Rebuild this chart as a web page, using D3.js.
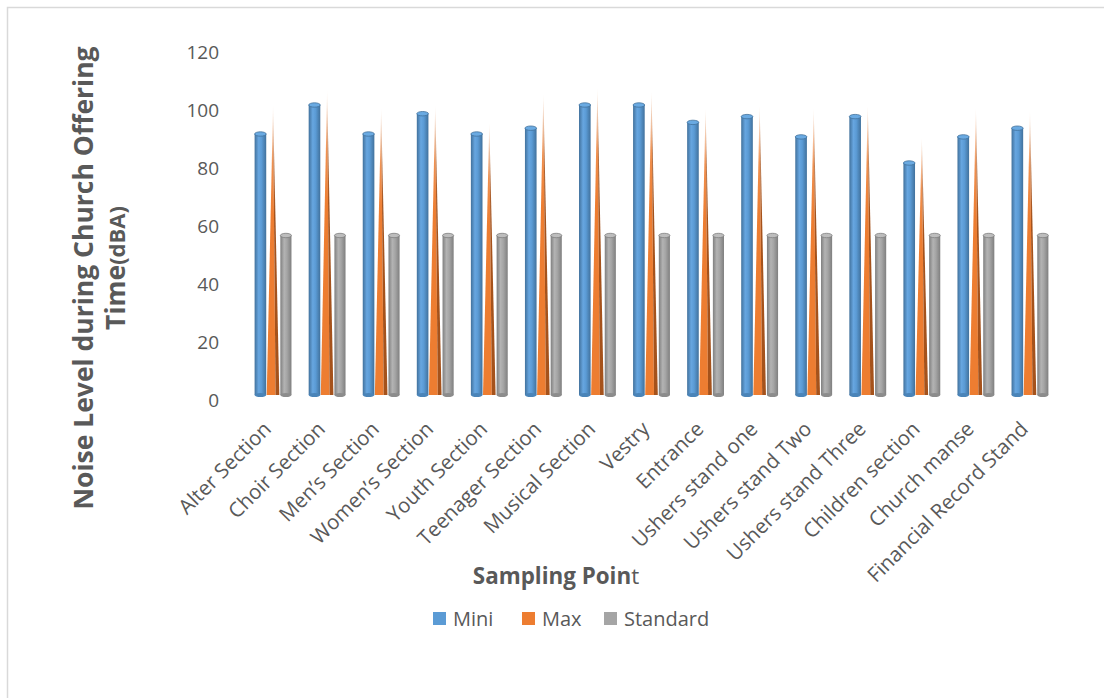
<!DOCTYPE html>
<html><head><meta charset="utf-8">
<script src="https://cdn.jsdelivr.net/npm/d3@7"></script>
<style>
html,body{margin:0;padding:0;background:#fff;}
svg{display:block;font-family:"Open Sans",sans-serif;}
</style></head>
<body><svg id="c" width="1104" height="698"></svg>
<script>
const categories = ["Alter Section","Choir Section","Men\u2019s Section","Women\u2019s Section","Youth Section","Teenager Section","Musical Section","Vestry","Entrance","Ushers stand one","Ushers stand Two","Ushers stand Three","Children section","Church manse","Financial Record Stand"];
const seriesNames = ["Mini","Max","Standard"];
const miniValues = [90,100,90,97,90,92,100,100,94,96,89,96,80,89,92];
const maxValues = [100,105,99,100,94,104,106,105,99,100,99,100,89,99,98];
const standardValues = [55,55,55,55,55,55,55,55,55,55,55,55,55,55,55];
const yTicks = [0,20,40,60,80,100,120];
const colors = {Mini:"#5b9bd5", Max:"#ed7d31", Standard:"#a5a5a5"};

const svg = d3.select("#c");
const textColor = "#595959";

// outer border
svg.append("rect").attr("x",7.5).attr("y",7.5).attr("width",1110).attr("height",700)
  .attr("fill","none").attr("stroke","#d9d9d9").attr("stroke-width",1.5);

const x0 = d3.scaleBand().domain(categories).range([246,1057]).paddingInner(0.3).paddingOuter(0.15);
const x1 = d3.scaleBand().domain(seriesNames).range([0,x0.bandwidth()]);
const y = d3.scaleLinear().domain([0,120]).range([395,47]);

const defs = svg.append("defs");
function hGrad(id, dark, mid, light){
  const g = defs.append("linearGradient").attr("id",id).attr("x1","0").attr("x2","1").attr("y1","0").attr("y2","0");
  g.append("stop").attr("offset","0%").attr("stop-color",dark);
  g.append("stop").attr("offset","35%").attr("stop-color",light);
  g.append("stop").attr("offset","60%").attr("stop-color",mid);
  g.append("stop").attr("offset","100%").attr("stop-color",dark);
}
hGrad("gBlue","#41719c","#5b9bd5","#67a6e0");
hGrad("gGray","#7f7f7f","#a5a5a5","#b3b3b3");
function vFade(id, col){
  const g = defs.append("linearGradient").attr("id",id).attr("x1","0").attr("x2","0").attr("y1","0").attr("y2","1");
  g.append("stop").attr("offset","0%").attr("stop-color",col).attr("stop-opacity",0.05);
  g.append("stop").attr("offset","20%").attr("stop-color",col).attr("stop-opacity",0.85);
  g.append("stop").attr("offset","38%").attr("stop-color",col).attr("stop-opacity",1);
  g.append("stop").attr("offset","100%").attr("stop-color",col).attr("stop-opacity",1);
}
vFade("gOrange","#ed7d31");
vFade("gOrangeDark","#a5521b");

// y axis (labels only, offset for 3D depth)
const yAxis = d3.axisLeft(y).tickValues(yTicks).tickSize(0).tickPadding(0);
const ya = svg.append("g").attr("transform","translate(219,5)").call(yAxis);
ya.select(".domain").remove();
ya.selectAll("text").attr("fill",textColor).style("font-size","19px").style("font-family","'Open Sans',sans-serif");

// x axis labels
const xa = svg.append("g").attr("transform","translate(0,420)");
xa.selectAll("text").data(categories).enter().append("text")
  .attr("transform",d=>`translate(${x0(d)+x0.bandwidth()/2-11},0) rotate(-45)`)
  .attr("text-anchor","end").attr("dy","0.71em")
  .attr("fill",textColor).style("font-size","20.5px").text(d=>d);

// bars
const groups = svg.append("g").selectAll("g").data(categories).enter().append("g")
  .attr("transform",d=>`translate(${x0(d)},0)`);

const w = x1.bandwidth();
groups.each(function(d,i){
  const g = d3.select(this);
  // Standard
  const xs = x1("Standard")+1, ws = w-1.5;
  const ts = y(standardValues[i]);
  g.append("rect").attr("x",xs).attr("y",ts).attr("width",ws).attr("height",y(0)-ts).attr("fill","url(#gGray)");
  g.append("ellipse").attr("cx",xs+ws/2).attr("cy",y(0)).attr("rx",ws/2).attr("ry",2).attr("fill","#8c8c8c");
  g.append("ellipse").attr("cx",xs+ws/2).attr("cy",ts).attr("rx",ws/2).attr("ry",2.2).attr("fill","#bdbdbd").attr("stroke","#7f7f7f").attr("stroke-width",0.8);
  // Mini
  const xm = x1("Mini")+0.5, wm = w-1;
  const tm = y(miniValues[i]);
  g.append("rect").attr("x",xm).attr("y",tm).attr("width",wm).attr("height",y(0)-tm).attr("fill","url(#gBlue)");
  g.append("ellipse").attr("cx",xm+wm/2).attr("cy",y(0)).attr("rx",wm/2).attr("ry",2).attr("fill","#4a84b8");
  g.append("ellipse").attr("cx",xm+wm/2).attr("cy",tm).attr("rx",wm/2).attr("ry",2.2).attr("fill","#6aaae2").attr("stroke","#41719c").attr("stroke-width",0.8);
  // Max cone
  const xc = x1("Max"), wc = w;
  const tc = y(maxValues[i]);
  const cx = xc + wc*0.5;
  g.append("path").attr("d",`M${xc},${y(0)} L${xc+wc*0.7},${y(0)} L${cx},${tc} Z`).attr("fill","url(#gOrange)");
  g.append("path").attr("d",`M${xc+wc*0.7},${y(0)} L${xc+wc},${y(0)} L${cx},${tc} Z`).attr("fill","url(#gOrangeDark)");
});

// y title
const yt = svg.append("text").attr("transform","translate(93,278) rotate(-90)")
  .attr("text-anchor","middle").attr("fill",textColor).style("font-weight","bold");
yt.append("tspan").attr("x",0).attr("dy",0).style("font-size","26.5px").text("Noise Level during Church Offering");
yt.append("tspan").attr("x",10).attr("dy",32).style("font-size","26.5px").text("Time");
yt.append("tspan").style("font-size","22px").text("(dBA)");

// x title
const xt = svg.append("text").attr("x",556).attr("y",584).attr("text-anchor","middle").attr("fill",textColor).style("font-size","22.4px");
xt.append("tspan").style("font-weight","bold").text("Sampling Poin");
xt.append("tspan").text("t");

// legend
const legX = [433,522,604];
const leg = svg.append("g").selectAll("g").data(seriesNames).enter().append("g")
  .attr("transform",(d,i)=>`translate(${legX[i]},612)`);
leg.append("rect").attr("width",13).attr("height",13).attr("fill",d=>colors[d]);
leg.append("text").attr("x",20).attr("y",6.5).attr("dy","0.35em").attr("fill",textColor).style("font-size","20px").text(d=>d);
</script></body></html>
